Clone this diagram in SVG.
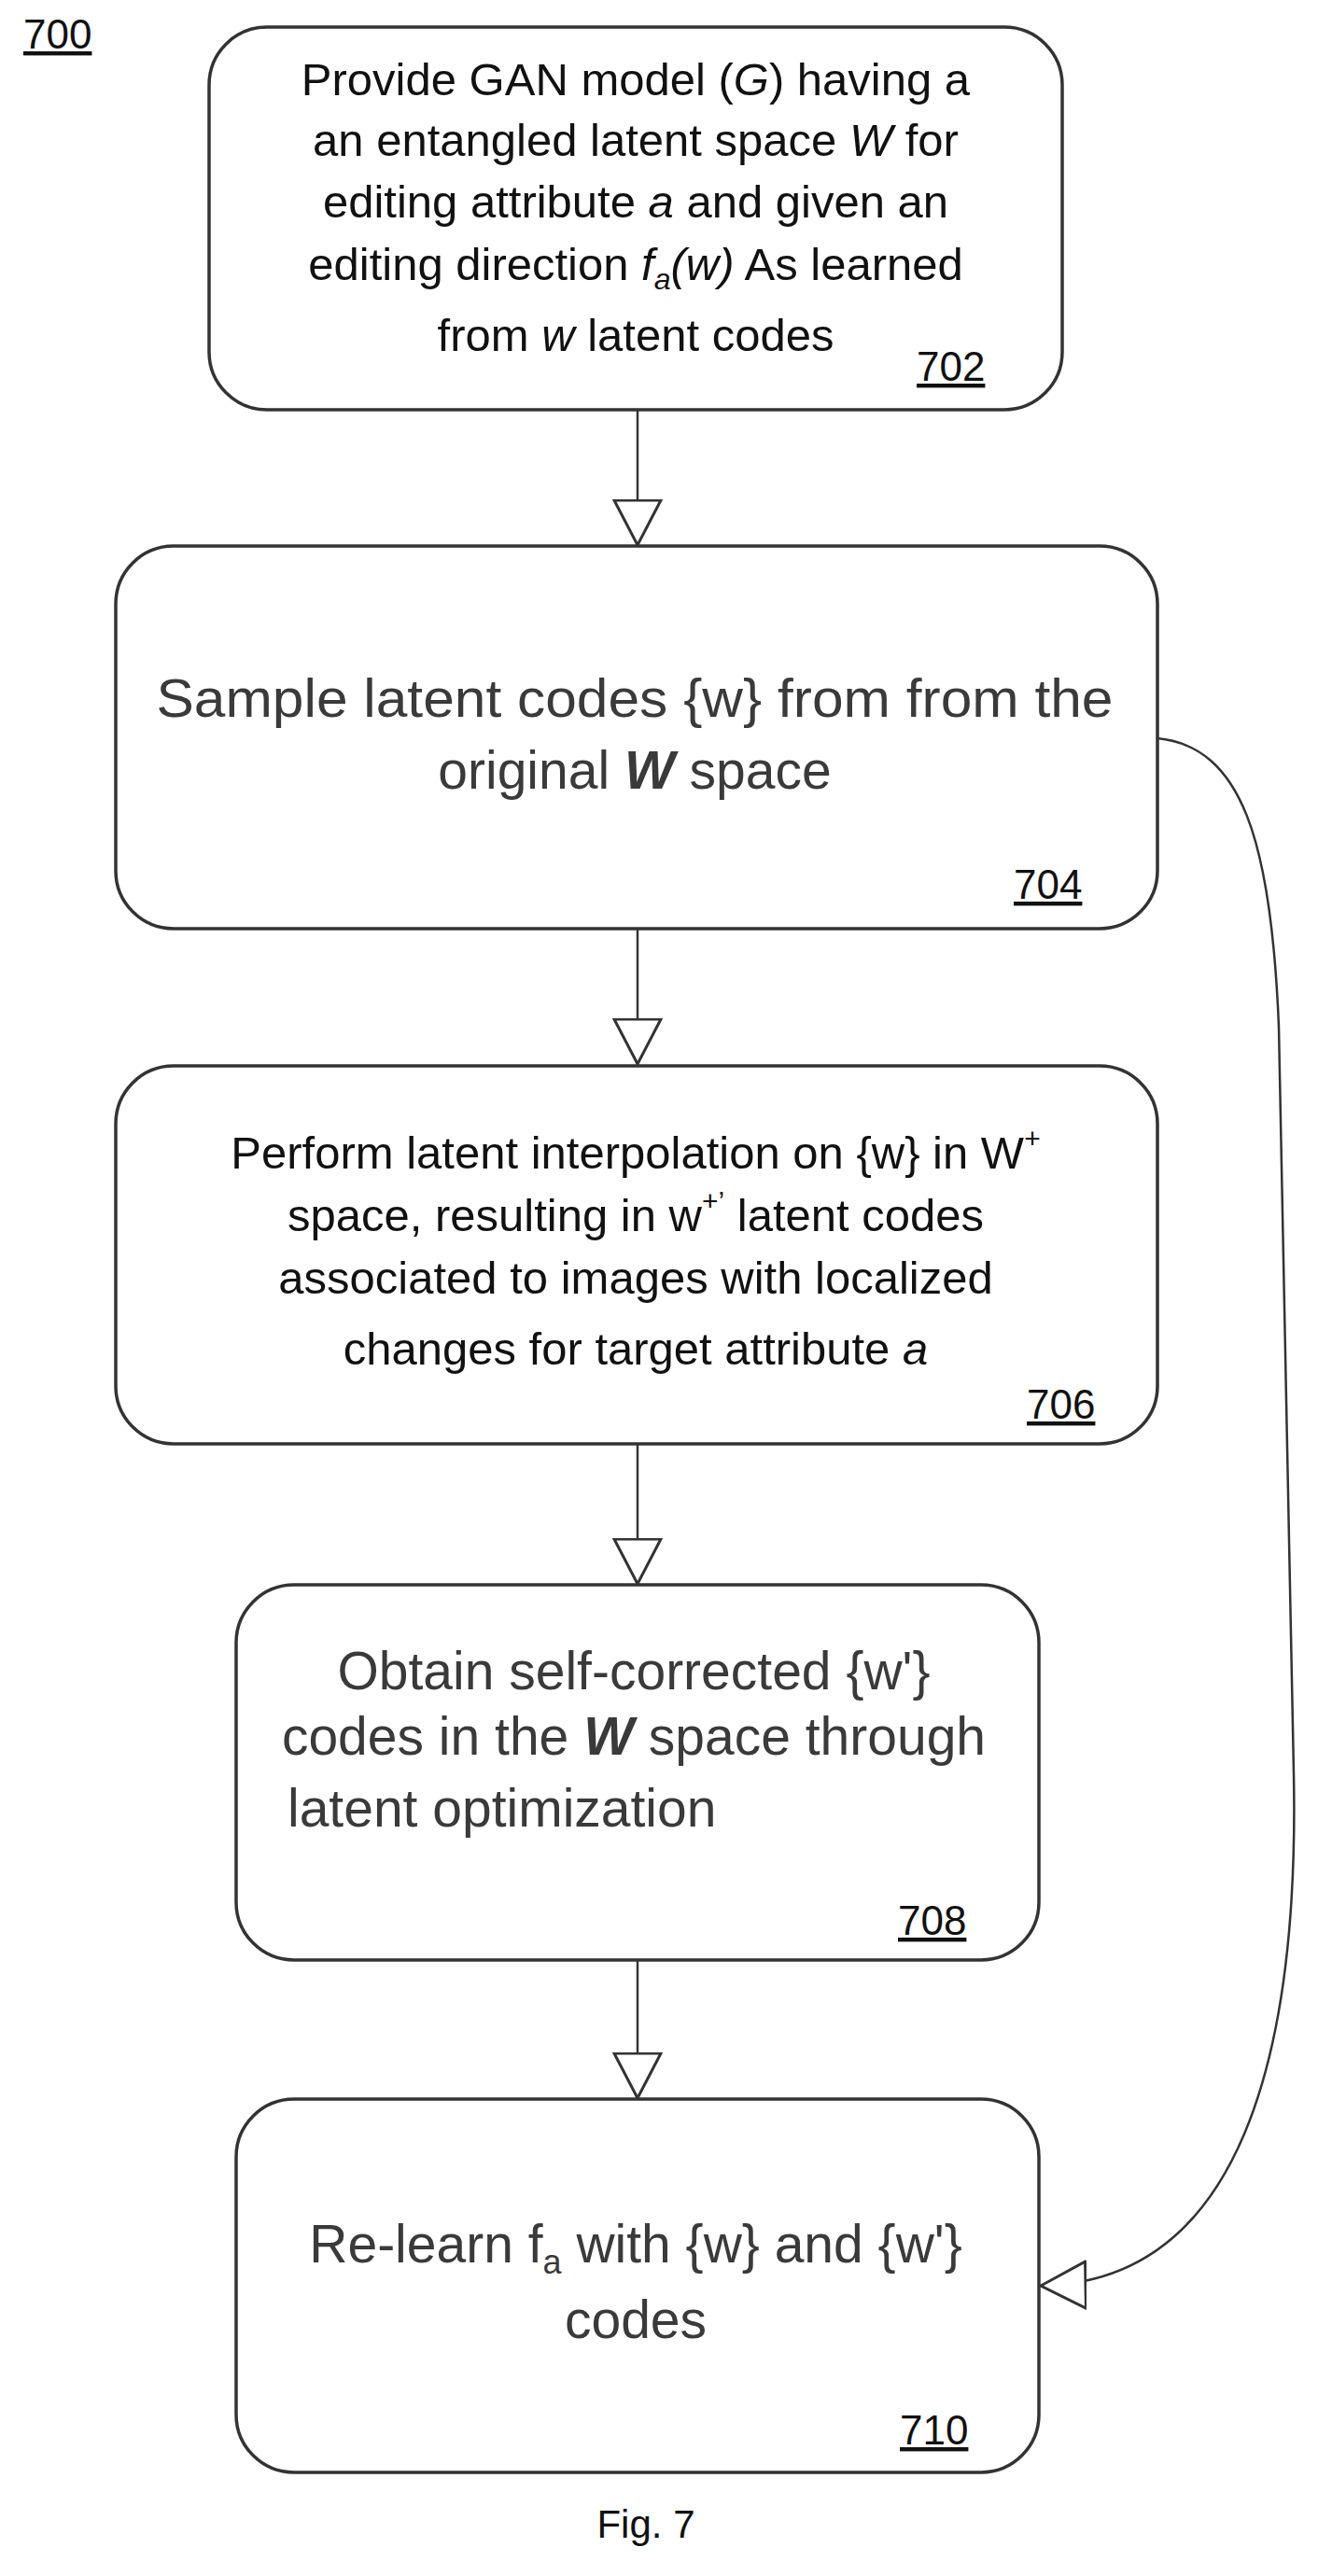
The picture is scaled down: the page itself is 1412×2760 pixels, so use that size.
<svg xmlns="http://www.w3.org/2000/svg" width="1412" height="2760" viewBox="0 0 1412 2760">
<style>
.box{fill:#fff;stroke:#333;stroke-width:3.5}
.t{font-family:"Liberation Sans",Arial,sans-serif;font-size:49px;fill:#111;text-anchor:middle}
.g{fill:#3a3a3a;font-size:57px}
.n{font-family:"Liberation Sans",Arial,sans-serif;font-size:44px;fill:#111;text-decoration:underline}
.c{fill:none;stroke:#333;stroke-width:2.5}
</style>
<defs>
<marker id="ah2" viewBox="0 0 50 54" refX="49" refY="27" markerWidth="50" markerHeight="54" markerUnits="userSpaceOnUse" orient="auto">
<path d="M1,2 L49,27 L1,52 Z" fill="#fff" stroke="#333" stroke-width="3"/>
</marker>
</defs>
<text x="25" y="52" class="n">700</text>
<g id="connectors">
<line class="c" x1="683" y1="439" x2="683" y2="584" marker-end="url(#ah2)"/>
<line class="c" x1="683" y1="995" x2="683" y2="1140" marker-end="url(#ah2)"/>
<line class="c" x1="683" y1="1547" x2="683" y2="1697" marker-end="url(#ah2)"/>
<line class="c" x1="683" y1="2100" x2="683" y2="2248" marker-end="url(#ah2)"/>
<path class="c" d="M1240,791 C1330,800 1362,900 1370,1100 L1386,1900 C1392,2200 1330,2445 1115,2449" marker-end="url(#ah2)"/>
</g>
<g id="n702">
<rect class="box" x="224" y="29" width="914" height="410" rx="62"/>
<text class="t" x="681" y="102">Provide GAN model (<tspan font-style="italic">G</tspan>) having a</text>
<text class="t" x="681" y="167">an entangled latent space <tspan font-style="italic">W</tspan> for</text>
<text class="t" x="681" y="233">editing attribute <tspan font-style="italic">a</tspan> and given an</text>
<text class="t" x="681" y="300">editing direction <tspan font-style="italic">f</tspan><tspan font-style="italic" font-size="32" dy="10">a</tspan><tspan font-style="italic" dy="-10">(w)</tspan> As learned</text>
<text class="t" x="681" y="376">from <tspan font-style="italic">w</tspan> latent codes</text>
<text class="n" x="982" y="408">702</text>
</g>
<g id="n704">
<rect class="box" x="124" y="585" width="1116" height="410" rx="62"/>
<text class="t g" x="680" y="768" textLength="1025" lengthAdjust="spacingAndGlyphs">Sample latent codes {w} from from the</text>
<text class="t g" x="680" y="845">original <tspan font-weight="bold" font-style="italic">W</tspan> space</text>
<text class="n" x="1086" y="963">704</text>
</g>
<g id="n706">
<rect class="box" x="124" y="1142" width="1116" height="405" rx="62"/>
<text class="t" x="681" y="1252">Perform latent interpolation on {w} in W<tspan font-size="30" dy="-22">+</tspan></text>
<text class="t" x="681" y="1319">space, resulting in w<tspan font-size="30" dy="-22">+’</tspan><tspan dy="22"> latent codes</tspan></text>
<text class="t" x="681" y="1386">associated to images with localized</text>
<text class="t" x="681" y="1462">changes for target attribute <tspan font-style="italic">a</tspan></text>
<text class="n" x="1100" y="1520">706</text>
</g>
<g id="n708">
<rect class="box" x="253" y="1698" width="860" height="402" rx="62"/>
<text class="t g" x="679" y="1810">Obtain self-corrected {w'}</text>
<text class="t g" x="679" y="1880">codes in the <tspan font-weight="bold" font-style="italic">W</tspan> space through</text>
<text class="t g" x="308" y="1957" style="text-anchor:start">latent optimization</text>
<text class="n" x="962" y="2073">708</text>
</g>
<g id="n710">
<rect class="box" x="253" y="2249" width="860" height="400" rx="62"/>
<text class="t g" x="681" y="2424">Re-learn f<tspan font-size="36" dy="12">a</tspan><tspan dy="-12"> with {w} and {w'}</tspan></text>
<text class="t g" x="681" y="2505">codes</text>
<text class="n" x="964" y="2619">710</text>
</g>
<text x="692" y="2719" font-family="Liberation Sans,Arial,sans-serif" font-size="42" text-anchor="middle" fill="#111">Fig. 7</text>
</svg>
